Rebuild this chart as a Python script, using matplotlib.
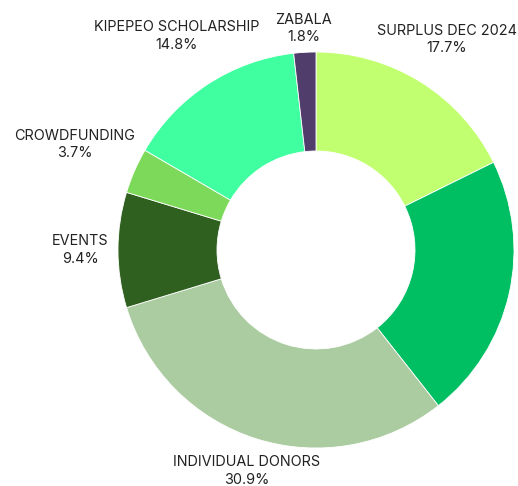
import matplotlib
matplotlib.use("Agg")
import matplotlib.pyplot as plt
import numpy as np

categories = ["SURPLUS DEC 2024", "", "INDIVIDUAL DONORS", "EVENTS",
              "CROWDFUNDING", "KIPEPEO SCHOLARSHIP", "ZABALA"]
values = [17.7, 21.7, 30.9, 9.4, 3.7, 14.8, 1.8]
colors = ["#C2FF70", "#00BF63", "#ABCBA0", "#30601F", "#7DD95A", "#40FFA0", "#513D6B"]
label_dist = [1.25, 1.25, 1.17, 1.19, 1.33, 1.29, 1.12]

plt.rcParams['font.family'] = ['Inter', 'DejaVu Sans']

W, H = 518, 486
fig = plt.figure(figsize=(W / 100, H / 100), dpi=100)
ax = fig.add_axes([0, 0, 1, 1])

cx, cy, R = 316, 236, 198
wedges, _ = ax.pie(values, colors=colors, startangle=90, counterclock=False,
                   center=(cx, cy), radius=R, frame=True,
                   wedgeprops=dict(width=R * 0.5, edgecolor='white', linewidth=0.6))
ax.set_xlim(0, W)
ax.set_ylim(0, H)
ax.set_aspect('equal')
ax.axis('off')

total = sum(values)
for w, name, v, d in zip(wedges, categories, values, label_dist):
    if not name:
        continue
    ang = np.deg2rad((w.theta1 + w.theta2) / 2)
    x = cx + d * R * np.cos(ang)
    y = cy + d * R * np.sin(ang)
    ax.text(x, y, f"{name}\n{v / total * 100:.1f}%", ha='center', va='center',
            fontsize=10.4, color='#222222', linespacing=1.3)

fig.savefig("out.png", dpi=100)
